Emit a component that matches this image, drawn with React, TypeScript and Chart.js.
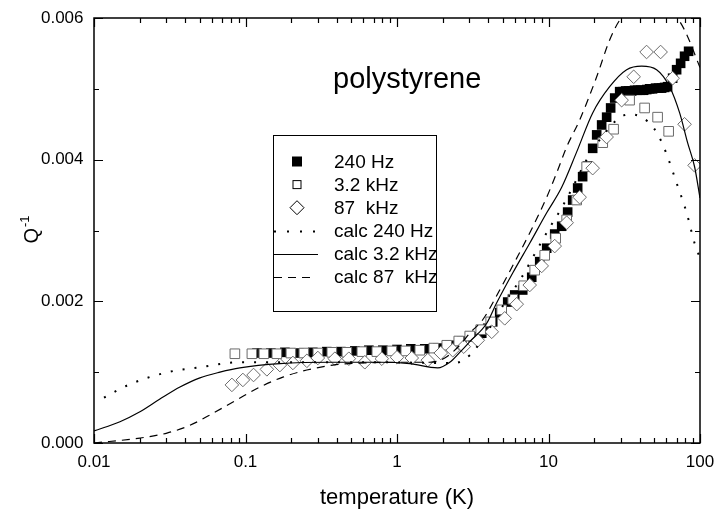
import React, { useEffect, useRef } from 'react';
import { Chart, registerables } from 'chart.js';

Chart.register(...registerables);

const FONT = '"Liberation Sans", Arial, Helvetica, sans-serif';

// Measured internal friction Q^-1 of polystyrene vs temperature (K)
const temp240 = [
  0.119, 0.147, 0.182, 0.225, 0.278, 0.344, 0.426, 0.527, 0.652, 0.806, 1.0, 1.233, 1.525,
  1.858, 2.23, 2.676, 3.162, 3.625, 3.972, 4.283, 4.764, 5.38, 5.984, 6.758, 7.75, 8.75,
  9.73, 10.99, 12.22, 13.38, 14.44, 15.58, 16.8, 18.14, 19.57, 20.8, 22.43, 24.2, 25.72,
  27.35, 29.5, 31.0, 32.3, 33.8, 35.4, 37.0, 38.8, 40.6, 42.46, 44.5, 46.5, 48.6, 50.9, 53.3,
  55.8, 58.4, 61.1, 65.97, 70.1, 74.5, 79.1, 84.1,
];
const q240 = [
  0.00127, 0.00127, 0.00128, 0.00127, 0.00128, 0.00129, 0.00129, 0.0013, 0.00131, 0.00131,
  0.00132, 0.00133, 0.00133, 0.00134, 0.00138, 0.00144, 0.0015, 0.00155, 0.00162, 0.00171,
  0.00184, 0.00199, 0.00209, 0.00216, 0.00234, 0.00256, 0.00275, 0.00295, 0.00306, 0.00326,
  0.00343, 0.0036, 0.00376, 0.00391, 0.00416, 0.00435, 0.00449, 0.0046, 0.00473, 0.00487,
  0.00496, 0.00496, 0.00497, 0.00497, 0.00497, 0.00498, 0.00498, 0.00498, 0.00498, 0.00499,
  0.005, 0.005, 0.00501, 0.00501, 0.00501, 0.00502, 0.00503, 0.00515, 0.00527, 0.00536,
  0.00546, 0.00553,
];

const temp3k2 = [
  0.0851, 0.1102, 0.1322, 0.161, 0.1993, 0.2428, 0.3003, 0.3714, 0.4667, 0.586, 0.736, 0.924,
  1.143, 1.414, 1.749, 2.131, 2.557, 3.021, 3.57, 4.155, 4.91, 5.805, 6.86, 8.11, 9.44, 11.16,
  13.18, 15.35, 17.86, 22.8, 26.9, 34.3, 43.1, 52.5, 62.1,
];
const q3k2 = [
  0.00126, 0.00126, 0.00126, 0.00126, 0.00127, 0.00127, 0.00127, 0.00128, 0.00128, 0.00129,
  0.00129, 0.0013, 0.0013, 0.00131, 0.00134, 0.00138, 0.00144, 0.00151, 0.0016, 0.00171,
  0.00188, 0.00203, 0.00222, 0.00244, 0.00265, 0.00289, 0.00315, 0.00343, 0.0039, 0.00424,
  0.00443, 0.00484, 0.00473, 0.0046, 0.0044,
];

const temp87k = [
  0.0813, 0.0961, 0.113, 0.1384, 0.1686, 0.2055, 0.2541, 0.3003, 0.3888, 0.4809, 0.613, 0.7937,
  1.0, 1.252, 1.597, 1.945, 2.334, 2.758, 3.412, 4.22, 5.14, 6.17, 7.516, 9.02, 10.99, 13.18,
  16.06, 19.57, 24.2, 30.4, 36.5, 44.4, 54.96, 65.97, 79.1, 92.1,
];
const q87k = [
  0.00082, 0.00089, 0.00096, 0.00104, 0.0011, 0.00113, 0.00116, 0.0012, 0.00119, 0.00119,
  0.00114, 0.00119, 0.00121, 0.0012, 0.00117, 0.00127, 0.00131, 0.00136, 0.00145, 0.00157,
  0.00176, 0.00196, 0.00223, 0.0025, 0.00278, 0.00311, 0.00347, 0.00388, 0.00432, 0.00484,
  0.00517, 0.00552, 0.00552, 0.00515, 0.0045, 0.00392,
];

// Calculated curves
const calcT240 = [
  0.01164, 0.01728, 0.03076, 0.05, 0.0918, 0.2284, 0.77, 1.916, 2.406, 3.021, 3.625, 4.416,
  5.14, 6.657, 8.359, 10.18, 12.22, 14.44, 17.86, 21.77, 28.18, 33.8, 41.2, 49.4, 55.8, 61.1,
  70.1, 81.6, 92.1, 100,
];
const calcQ240 = [
  0.00064, 0.00083, 0.001, 0.00107, 0.00114, 0.00114, 0.00114, 0.00113, 0.00113, 0.00124,
  0.00145, 0.00174, 0.00198, 0.00234, 0.00272, 0.00304, 0.00332, 0.00361, 0.004, 0.00428,
  0.00456, 0.00464, 0.0046, 0.00445, 0.00425, 0.00404, 0.00367, 0.00325, 0.00282, 0.00261,
];

const calcT3k2 = [
  0.01, 0.01484, 0.0201, 0.02724, 0.03692, 0.05, 0.0678, 0.0918, 0.1686, 0.3603, 0.77, 1.214,
  1.858, 2.23, 2.596, 3.021, 3.911, 4.553, 5.805, 7.516, 9.73, 12.22, 15.35, 19.57, 25.33, 32.8,
  41.2, 51.7, 63.0, 73.4, 82.8, 92.1, 100,
];
const calcQ3k2 = [
  0.00017, 0.0003, 0.00044, 0.00062, 0.00079, 0.00092, 0.001, 0.00106, 0.00112, 0.00114,
  0.00114, 0.00112, 0.00106, 0.00114, 0.00128, 0.00143, 0.00169, 0.00198, 0.0024, 0.00282,
  0.00325, 0.00361, 0.00411, 0.00466, 0.00503, 0.00527, 0.00532, 0.00527, 0.00503, 0.00466,
  0.00424, 0.0039, 0.00346,
];

const calcT87k = [
  0.01, 0.0201, 0.0303, 0.043, 0.061, 0.0877, 0.1245, 0.1765, 0.254, 0.377, 0.595, 1.0, 1.646,
  2.067, 2.596, 3.021, 3.68, 4.764, 6.17, 7.867, 9.73, 11.5, 13.18, 16.06, 20.8, 25.33, 29.5,
  37.04, 47.2, 60.2, 79.1, 100,
];
const calcQ87k = [
  0.0, 0.00007, 0.00014, 0.00025, 0.00042, 0.00061, 0.00079, 0.00093, 0.00103, 0.0011, 0.00113,
  0.00114, 0.00114, 0.0012, 0.00138, 0.00155, 0.00174, 0.00216, 0.00261, 0.00305, 0.00347,
  0.00385, 0.00418, 0.00456, 0.00517, 0.00569, 0.00597, 0.0062, 0.0064, 0.0062, 0.00583, 0.0053,
];

const xTickValues = [0.01, 0.1, 1, 10, 100];
const xTickLabels = ['0.01', '0.1', '1', '10', '100'];
const yTickValues = [0, 0.002, 0.004, 0.006];
const yTickLabels = ['0.000', '0.002', '0.004', '0.006'];
const yMinorValues = [0.001, 0.003, 0.005];

const legendLabels = ['240 Hz', '3.2 kHz', '87  kHz', 'calc 240 Hz', 'calc 3.2 kHz', 'calc 87  kHz'];

const pairs = (xs: number[], ys: number[]) => xs.map((x, i) => ({ x, y: ys[i] }));

const OPEN_COLOR = '#6a6a6a';

const decorPlugin = {
  id: 'decor',
  afterDatasetsDraw(chart: any) {
    const { ctx, chartArea: a, scales } = chart;
    const xs = scales.x;
    const ys = scales.y;
    ctx.save();
    ctx.strokeStyle = '#000';
    ctx.lineWidth = 1.2;
    ctx.beginPath();
    const MAJ = 9;
    const MIN = 5;
    // x ticks (bottom and top, pointing inward)
    xTickValues.forEach((v) => {
      const p = Math.round(xs.getPixelForValue(v)) + 0.5;
      ctx.moveTo(p, a.bottom);
      ctx.lineTo(p, a.bottom - MAJ);
      ctx.moveTo(p, a.top);
      ctx.lineTo(p, a.top + MAJ);
    });
    for (let d = 0; d < xTickValues.length - 1; d++) {
      for (let k = 2; k <= 9; k++) {
        const p = Math.round(xs.getPixelForValue(k * xTickValues[d])) + 0.5;
        ctx.moveTo(p, a.bottom);
        ctx.lineTo(p, a.bottom - MIN);
        ctx.moveTo(p, a.top);
        ctx.lineTo(p, a.top + MIN);
      }
    }
    // y ticks (left and right, pointing inward)
    yTickValues.forEach((v) => {
      const p = Math.round(ys.getPixelForValue(v)) + 0.5;
      ctx.moveTo(a.left, p);
      ctx.lineTo(a.left + MAJ, p);
      ctx.moveTo(a.right, p);
      ctx.lineTo(a.right - MAJ, p);
    });
    yMinorValues.forEach((v) => {
      const p = Math.round(ys.getPixelForValue(v)) + 0.5;
      ctx.moveTo(a.left, p);
      ctx.lineTo(a.left + MIN, p);
      ctx.moveTo(a.right, p);
      ctx.lineTo(a.right - MIN, p);
    });
    ctx.stroke();
    // frame
    ctx.lineWidth = 1.5;
    ctx.strokeRect(a.left, a.top, a.right - a.left, a.bottom - a.top);
    ctx.restore();
  },
  afterDraw(chart: any) {
    const { ctx, chartArea: a } = chart;
    ctx.save();
    ctx.fillStyle = '#000';

    // sample label
    ctx.font = `29px ${FONT}`;
    ctx.textAlign = 'left';
    ctx.textBaseline = 'alphabetic';
    ctx.fillText('polystyrene', 333, 88);

    // x-axis title
    ctx.font = `22px ${FONT}`;
    ctx.textAlign = 'center';
    ctx.fillText('temperature (K)', (a.left + a.right) / 2, 504);

    // y-axis title Q^-1
    ctx.save();
    ctx.translate(38, 230);
    ctx.rotate(-Math.PI / 2);
    ctx.textAlign = 'left';
    ctx.font = `20px ${FONT}`;
    const qw = ctx.measureText('Q').width;
    ctx.font = `13px ${FONT}`;
    const sw = ctx.measureText('-1').width;
    const x0 = -(qw + sw) / 2;
    ctx.font = `20px ${FONT}`;
    ctx.fillText('Q', x0, 0);
    ctx.font = `13px ${FONT}`;
    ctx.fillText('-1', x0 + qw + 1, -9);
    ctx.restore();

    // legend box
    const bx = 273.5, by = 135.5, bw = 163, bh = 176;
    ctx.fillStyle = '#fff';
    ctx.fillRect(bx, by, bw, bh);
    ctx.strokeStyle = '#000';
    ctx.lineWidth = 1;
    ctx.strokeRect(bx, by, bw, bh);

    const rowY = (i: number) => 161.5 + i * 23.1;
    const mx = 297;
    ctx.fillStyle = '#000';
    // filled square
    ctx.fillRect(mx - 5, rowY(0) - 5, 10, 10);
    // open square
    ctx.lineWidth = 1;
    ctx.strokeRect(mx - 4, rowY(1) - 4, 8, 8);
    // diamond
    ctx.beginPath();
    ctx.moveTo(mx, rowY(2) - 7);
    ctx.lineTo(mx + 7, rowY(2));
    ctx.lineTo(mx, rowY(2) + 7);
    ctx.lineTo(mx - 7, rowY(2));
    ctx.closePath();
    ctx.stroke();
    // line samples
    const line = (i: number, dash: number[], w: number, x1: number, x2: number) => {
      ctx.save();
      ctx.setLineDash(dash);
      ctx.lineWidth = w;
      ctx.beginPath();
      ctx.moveTo(x1, Math.round(rowY(i)) + 0.5);
      ctx.lineTo(x2, Math.round(rowY(i)) + 0.5);
      ctx.stroke();
      ctx.restore();
    };
    line(3, [2, 11], 2, 274, 316);
    line(4, [], 1.2, 274, 318);
    line(5, [8, 6], 1.2, 274, 314);

    ctx.font = `19px ${FONT}`;
    ctx.textAlign = 'left';
    ctx.textBaseline = 'middle';
    legendLabels.forEach((t, i) => ctx.fillText(t, 334, rowY(i) + 1));
    ctx.restore();
  },
};

export default function App() {
  const ref = useRef<HTMLCanvasElement | null>(null);

  useEffect(() => {
    if (!ref.current) return;
    const chart = new Chart(ref.current, {
      type: 'scatter',
      data: {
        datasets: [
          {
            label: legendLabels[0],
            data: pairs(temp240, q240),
            pointStyle: 'rect',
            pointRadius: 6.8,
            backgroundColor: '#000',
            borderColor: '#000',
            borderWidth: 0,
            order: 6,
          },
          {
            label: legendLabels[1],
            data: pairs(temp3k2, q3k2),
            pointStyle: 'rect',
            pointRadius: 6.8,
            backgroundColor: '#fff',
            borderColor: OPEN_COLOR,
            borderWidth: 1,
            order: 5,
          },
          {
            label: legendLabels[2],
            data: pairs(temp87k, q87k),
            pointStyle: 'rectRot',
            pointRadius: 6.8,
            backgroundColor: '#fff',
            borderColor: OPEN_COLOR,
            borderWidth: 1,
            order: 4,
          },
          {
            label: legendLabels[3],
            data: pairs(calcT240, calcQ240),
            showLine: true,
            pointRadius: 0,
            borderColor: '#000',
            borderWidth: 2,
            borderDash: [2, 10],
            borderCapStyle: 'butt',
            cubicInterpolationMode: 'monotone',
            order: 3,
          },
          {
            label: legendLabels[4],
            data: pairs(calcT3k2, calcQ3k2),
            showLine: true,
            pointRadius: 0,
            borderColor: '#000',
            borderWidth: 1.2,
            cubicInterpolationMode: 'monotone',
            order: 2,
          },
          {
            label: legendLabels[5],
            data: pairs(calcT87k, calcQ87k),
            showLine: true,
            pointRadius: 0,
            borderColor: '#000',
            borderWidth: 1.2,
            borderDash: [8, 6],
            cubicInterpolationMode: 'monotone',
            order: 1,
          },
        ],
      },
      options: {
        animation: false,
        responsive: false,
        maintainAspectRatio: false,
        layout: { padding: { left: 0, right: 16, top: 18, bottom: 0 } },
        plugins: {
          legend: { display: false },
          tooltip: { enabled: false },
          title: { display: false },
        },
        scales: {
          x: {
            type: 'logarithmic',
            position: 'bottom',
            min: 0.01,
            max: 100,
            grid: { display: false, drawTicks: false },
            border: { display: false },
            afterBuildTicks: (s: any) => {
              s.ticks = xTickValues.map((v) => ({ value: v }));
            },
            afterFit: (s: any) => {
              s.height = 67;
              s.paddingLeft = 0;
              s.paddingRight = 0;
            },
            ticks: {
              autoSkip: false,
              maxRotation: 0,
              padding: 9,
              color: '#000',
              font: { family: FONT, size: 17 },
              callback: (_v: any, i: number) => xTickLabels[i],
            },
          },
          y: {
            type: 'linear',
            position: 'left',
            min: 0,
            max: 0.006,
            grid: { display: false, drawTicks: false },
            border: { display: false },
            afterBuildTicks: (s: any) => {
              s.ticks = yTickValues.map((v) => ({ value: v }));
            },
            afterFit: (s: any) => {
              s.width = 94;
              s.paddingTop = 0;
              s.paddingBottom = 0;
            },
            ticks: {
              padding: 10.5,
              color: '#000',
              font: { family: FONT, size: 17 },
              callback: (_v: any, i: number) => yTickLabels[i],
            },
          },
        },
      },
      plugins: [decorPlugin],
    } as any);
    return () => chart.destroy();
  }, []);

  return (
    <div style={{ position: 'fixed', left: 0, top: 0, width: 716, height: 510, background: '#fff' }}>
      <canvas ref={ref} width={716} height={510} style={{ width: 716, height: 510, display: 'block' }} />
    </div>
  );
}
